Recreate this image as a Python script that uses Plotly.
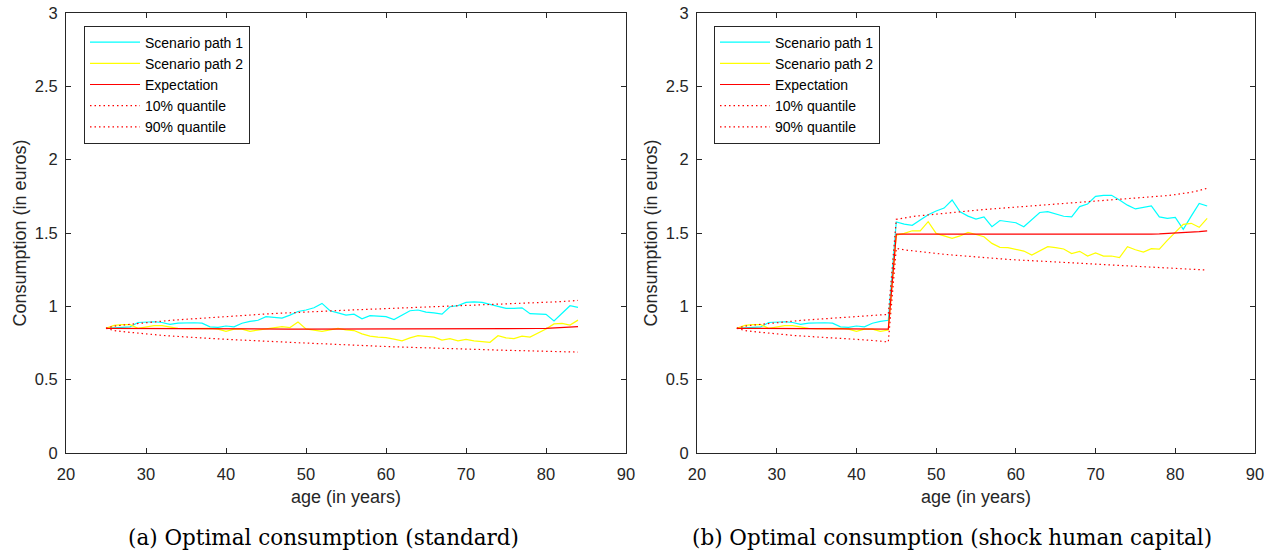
import plotly.graph_objects as go

# Ages covered by the simulation
ages = list(range(25, 85))

# ---- Panel (a): standard model ----
std_path1 = [0.85, 0.855, 0.86, 0.86, 0.89, 0.895, 0.895, 0.89, 0.877, 0.885,
             0.888, 0.888, 0.885, 0.86, 0.856, 0.866, 0.86, 0.885, 0.897, 0.905,
             0.93, 0.925, 0.92, 0.94, 0.965, 0.975, 0.99, 1.02, 0.97, 0.955,
             0.94, 0.947, 0.915, 0.936, 0.932, 0.93, 0.91, 0.94, 0.97, 0.975,
             0.96, 0.955, 0.947, 0.997, 1.005, 1.027, 1.03, 1.027, 1.013, 0.997,
             0.986, 0.986, 0.99, 0.95, 0.945, 0.945, 0.90, 0.95, 1.004, 0.993]
std_path2 = [0.85, 0.87, 0.875, 0.875, 0.85, 0.86, 0.868, 0.868, 0.86, 0.85,
             0.848, 0.85, 0.848, 0.85, 0.845, 0.83, 0.845, 0.845, 0.83, 0.838,
             0.845, 0.855, 0.862, 0.855, 0.893, 0.846, 0.84, 0.83, 0.84, 0.85,
             0.84, 0.835, 0.812, 0.797, 0.79, 0.787, 0.777, 0.765, 0.785, 0.80,
             0.795, 0.79, 0.77, 0.78, 0.765, 0.775, 0.765, 0.76, 0.755, 0.80,
             0.785, 0.78, 0.797, 0.79, 0.815, 0.845, 0.88, 0.884, 0.872, 0.906]
std_mean = [0.85, 0.85, 0.849, 0.849, 0.849, 0.848, 0.848, 0.848, 0.847, 0.847,
            0.847, 0.847, 0.846, 0.846, 0.846, 0.846, 0.846, 0.845, 0.845, 0.845,
            0.845, 0.845, 0.845, 0.845, 0.844, 0.844, 0.844, 0.844, 0.844, 0.844,
            0.844, 0.844, 0.844, 0.844, 0.844, 0.844, 0.844, 0.844, 0.844, 0.844,
            0.844, 0.844, 0.844, 0.844, 0.845, 0.845, 0.845, 0.845, 0.846, 0.846,
            0.846, 0.847, 0.847, 0.848, 0.849, 0.85, 0.852, 0.854, 0.857, 0.861]
std_q10 = [0.85, 0.835, 0.828, 0.822, 0.816, 0.811, 0.806, 0.802, 0.798, 0.794,
           0.79, 0.787, 0.784, 0.781, 0.778, 0.775, 0.772, 0.77, 0.767, 0.764,
           0.762, 0.76, 0.757, 0.755, 0.752, 0.75, 0.747, 0.745, 0.742, 0.74,
           0.737, 0.735, 0.732, 0.73, 0.728, 0.726, 0.724, 0.722, 0.72, 0.718,
           0.716, 0.714, 0.712, 0.71, 0.708, 0.706, 0.705, 0.704, 0.702, 0.701,
           0.70, 0.699, 0.697, 0.696, 0.695, 0.694, 0.692, 0.691, 0.69, 0.688]
std_q90 = [0.85, 0.865, 0.872, 0.878, 0.884, 0.889, 0.894, 0.899, 0.904, 0.908,
           0.912, 0.916, 0.92, 0.924, 0.928, 0.932, 0.935, 0.939, 0.942, 0.945,
           0.948, 0.951, 0.954, 0.957, 0.96, 0.963, 0.965, 0.968, 0.97, 0.972,
           0.974, 0.976, 0.978, 0.98, 0.982, 0.984, 0.986, 0.988, 0.99, 0.992,
           0.994, 0.996, 0.998, 1.0, 1.002, 1.004, 1.006, 1.008, 1.01, 1.012,
           1.014, 1.016, 1.018, 1.021, 1.024, 1.027, 1.03, 1.033, 1.036, 1.04]

# ---- Panel (b): shock to human capital at age 45 ----
shock_path1 = [0.85, 0.855, 0.86, 0.86, 0.89, 0.895, 0.895, 0.89, 0.877, 0.885,
               0.888, 0.888, 0.885, 0.86, 0.856, 0.866, 0.86, 0.885, 0.897, 0.905,
               1.575, 1.56, 1.552, 1.59, 1.625, 1.65, 1.67, 1.725, 1.645, 1.615,
               1.595, 1.61, 1.543, 1.585, 1.578, 1.57, 1.543, 1.593, 1.64, 1.645,
               1.63, 1.614, 1.61, 1.68, 1.698, 1.75, 1.757, 1.757, 1.725, 1.69,
               1.664, 1.675, 1.684, 1.61, 1.60, 1.607, 1.525, 1.615, 1.702, 1.684]
shock_path2 = [0.85, 0.87, 0.875, 0.875, 0.85, 0.86, 0.868, 0.868, 0.86, 0.85,
               0.848, 0.85, 0.848, 0.85, 0.845, 0.83, 0.845, 0.845, 0.83, 0.838,
               1.486, 1.497, 1.515, 1.515, 1.577, 1.497, 1.48, 1.463, 1.48, 1.504,
               1.49, 1.475, 1.429, 1.402, 1.40, 1.386, 1.377, 1.35, 1.377, 1.407,
               1.40, 1.391, 1.36, 1.375, 1.343, 1.364, 1.343, 1.343, 1.332, 1.407,
               1.386, 1.37, 1.393, 1.39, 1.45, 1.505, 1.559, 1.566, 1.539, 1.60]
shock_mean = [0.85, 0.85, 0.849, 0.849, 0.849, 0.848, 0.848, 0.848, 0.847, 0.847,
              0.847, 0.847, 0.846, 0.846, 0.846, 0.846, 0.846, 0.845, 0.845, 0.845,
              1.492, 1.492, 1.491, 1.491, 1.491, 1.49, 1.49, 1.49, 1.49, 1.489,
              1.489, 1.489, 1.489, 1.489, 1.488, 1.488, 1.488, 1.488, 1.488, 1.488,
              1.488, 1.488, 1.488, 1.488, 1.488, 1.489, 1.489, 1.489, 1.49, 1.49,
              1.491, 1.492, 1.493, 1.494, 1.496, 1.498, 1.501, 1.504, 1.509, 1.515]
shock_q10 = [0.85, 0.835, 0.828, 0.822, 0.816, 0.811, 0.806, 0.802, 0.798, 0.794,
             0.79, 0.787, 0.784, 0.781, 0.778, 0.775, 0.772, 0.768, 0.763, 0.757,
             1.395, 1.385, 1.378, 1.372, 1.366, 1.36, 1.355, 1.35, 1.345, 1.34,
             1.336, 1.332, 1.328, 1.324, 1.32, 1.317, 1.314, 1.311, 1.308, 1.305,
             1.302, 1.299, 1.296, 1.293, 1.29, 1.287, 1.284, 1.281, 1.278, 1.275,
             1.272, 1.269, 1.266, 1.263, 1.26, 1.257, 1.254, 1.251, 1.249, 1.247]
shock_q90 = [0.85, 0.865, 0.872, 0.878, 0.884, 0.889, 0.894, 0.899, 0.904, 0.908,
             0.912, 0.916, 0.92, 0.924, 0.928, 0.932, 0.935, 0.939, 0.942, 0.945,
             1.593, 1.605, 1.612, 1.618, 1.624, 1.63, 1.635, 1.64, 1.645, 1.65,
             1.655, 1.66, 1.664, 1.668, 1.672, 1.676, 1.68, 1.684, 1.688, 1.692,
             1.696, 1.70, 1.704, 1.708, 1.712, 1.716, 1.72, 1.724, 1.728, 1.732,
             1.736, 1.74, 1.745, 1.75, 1.755, 1.762, 1.768, 1.778, 1.79, 1.805]

series_names = ["Scenario path 1", "Scenario path 2", "Expectation",
                "10% quantile", "90% quantile"]
series_colors = ["#00FFFF", "#FFFF00", "#FF0000", "#FF0000", "#FF0000"]
series_dash = ["solid", "solid", "solid", "1.5px,3px", "1.5px,3px"]

captions = ["(a) Optimal consumption (standard)",
            "(b) Optimal consumption (shock human capital)"]
x_ticks = [20, 30, 40, 50, 60, 70, 80, 90]
y_ticks = [0, 0.5, 1, 1.5, 2, 2.5, 3]
y_ticktext = ["0", "0.5", "1", "1.5", "2", "2.5", "3"]

W, H = 1277, 554
SANS = "Liberation Sans, Arial, sans-serif"
AXC = "#262626"

# plotting region in pixels (left, right, top, bottom)
L, R, T, B = 66, 1255, 13, 453
PW, PH = R - L, B - T


def px_x(px):
    return (px - L) / PW


def px_y(py):
    return (B - py) / PH


panels = [
    dict(data=[std_path1, std_path2, std_mean, std_q10, std_q90],
         xa="x", ya="y", legend="legend"),
    dict(data=[shock_path1, shock_path2, shock_mean, shock_q10, shock_q90],
         xa="x2", ya="y2", legend="legend2"),
]

fig = go.Figure()
for p in panels:
    for vals, name, col, dash in zip(p["data"], series_names, series_colors, series_dash):
        fig.add_trace(go.Scatter(
            x=ages, y=vals, mode="lines", name=name,
            line=dict(color=col, width=1.2, dash=dash),
            xaxis=p["xa"], yaxis=p["ya"], legend=p["legend"],
            hoverinfo="skip",
        ))


def xaxis_cfg(x0, x1, anchor):
    return dict(
        domain=[px_x(x0), px_x(x1)], range=[20, 90], tickvals=x_ticks, anchor=anchor,
        ticks="inside", ticklen=5, tickcolor=AXC, showline=True, linecolor=AXC,
        linewidth=1, mirror="ticks", showgrid=False, zeroline=False,
        automargin=False, ticklabelstandoff=6,
        tickfont=dict(family=SANS, size=16.5, color=AXC),
        title=dict(text="age (in years)", font=dict(family=SANS, size=18, color=AXC),
                   standoff=8),
    )


def yaxis_cfg(anchor):
    return dict(
        domain=[0, 1], range=[0, 3],
        tickvals=y_ticks, ticktext=y_ticktext, anchor=anchor,
        ticks="inside", ticklen=5, tickcolor=AXC, showline=True, linecolor=AXC,
        linewidth=1, mirror="ticks", showgrid=False, zeroline=False,
        automargin=False, ticklabelstandoff=4,
        tickfont=dict(family=SANS, size=16.5, color=AXC),
        title=dict(text="Consumption (in euros)",
                   font=dict(family=SANS, size=18, color=AXC), standoff=3),
    )


def legend_cfg(xpx):
    return dict(
        x=px_x(xpx), y=px_y(25.5), xanchor="left", yanchor="top",
        bgcolor="white", bordercolor=AXC, borderwidth=1,
        font=dict(family=SANS, size=14, color="#000000"),
        itemwidth=50, tracegroupgap=0,
    )


annotations = []
for cx, cap in zip([323, 952], captions):
    annotations.append(dict(
        text=cap, xref="paper", yref="paper", x=px_x(cx), y=px_y(537),
        xanchor="center", yanchor="middle", showarrow=False,
        font=dict(family="DejaVu Serif, serif", size=21.5, color="#000000"),
    ))

fig.update_layout(
    width=W, height=H,
    margin=dict(l=L, r=W - R, t=T, b=H - B, autoexpand=False),
    paper_bgcolor="white", plot_bgcolor="white",
    xaxis=xaxis_cfg(66, 626, "y"), yaxis=yaxis_cfg("x"),
    xaxis2=xaxis_cfg(697, 1255, "y2"), yaxis2=yaxis_cfg("x2"),
    legend=legend_cfg(84), legend2=legend_cfg(714),
    annotations=annotations,
    showlegend=True,
)

fig.write_html("out.html")
